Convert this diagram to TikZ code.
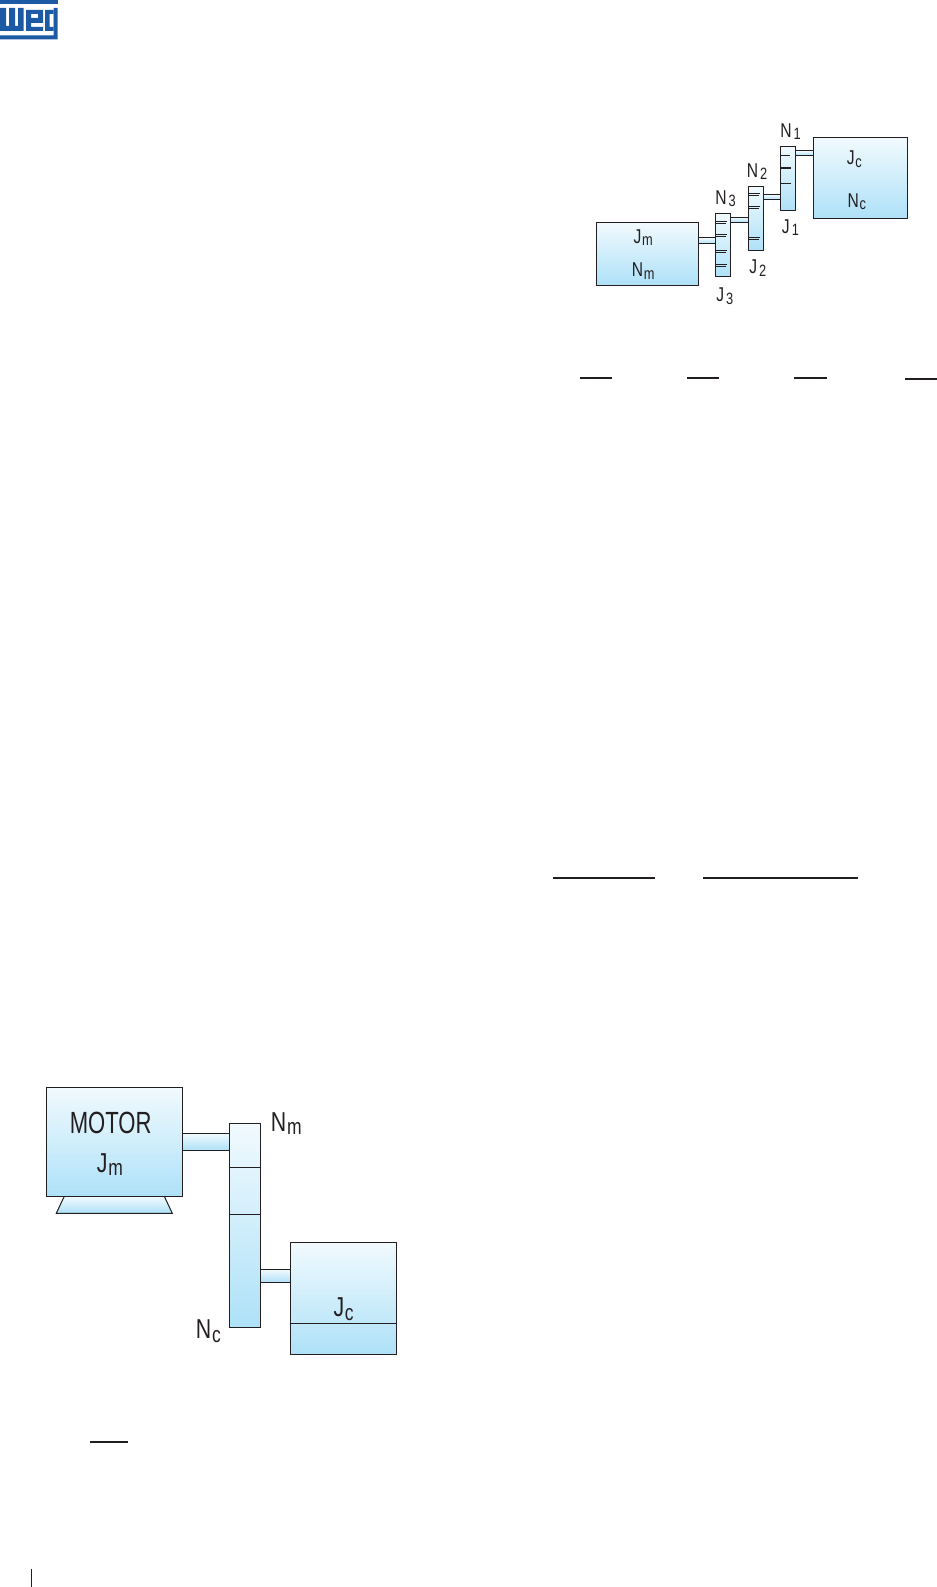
\documentclass[tikz,border=0pt]{standalone}
\usepackage{fontspec}
\newfontfamily\cond[FakeStretch=0.78]{Liberation Sans}
\newfontfamily\condmotor[FakeStretch=0.72]{Liberation Sans}
\definecolor{lighttop}{HTML}{F1FAFE}
\definecolor{lightbot}{HTML}{AEE1F8}
\definecolor{inkline}{HTML}{231F20}
\definecolor{wegblue}{HTML}{1C5AA6}
\newcommand{\lab}[4]{{\fontsize{#1}{#1}\selectfont\cond #3\hspace{#4}\raisebox{-0.14em}{\fontsize{\dimexpr #1pt*82/100\relax}{#1}\selectfont #2}}}
\tikzset{
  partbox/.style={draw=inkline,line width=0.75pt,top color=lighttop,bottom color=lightbot,middle color=lighttop!50!lightbot},
  rule/.style={draw=inkline,line width=1.5pt},
  thin rule/.style={draw=inkline,line width=0.4pt},
  tick rule/.style={draw=inkline,line width=0.9pt},
  txt/.style={anchor=base west,inner sep=0pt,text=inkline},
  logo/.style={fill=wegblue,draw=none}
}
\begin{document}
\begin{tikzpicture}[x=0.75pt,y=-0.75pt]
\useasboundingbox (0,0) rectangle (937,1587);
% logo
\fill[logo] (0,0) rectangle (57.5,4);
\fill[logo] (0,8) -- (6,8) -- (6,26) -- (9,26) -- (9,8) -- (15,8) -- (15,26) -- (18,26) -- (18,8) -- (23.5,8) -- (23.5,31) -- (0,31) -- cycle;
\fill[logo,even odd rule] (26,10) rectangle (43,31) (31,14) rectangle (38,18) (31,23) rectangle (43,27);
\fill[logo,even odd rule] (45,10) rectangle (53.5,31) (49.5,14) rectangle (53.5,27);
\fill[logo] (53.5,8) rectangle (57.5,39.5) (0,35.5) rectangle (57.5,39.5);
% top gear train
\path[partbox] (698.5,238) rectangle (715,243.7);
\path[partbox] (730.7,217.3) rectangle (748.3,222.3);
\path[partbox] (763.7,194.7) rectangle (780.3,199.7);
\path[partbox] (795.7,151) rectangle (813,155.3);
\path[partbox] (596,222.3) rectangle (698.5,285.3);
\path[partbox] (715,213.3) rectangle (730.7,276.7);
\path[partbox] (748.3,186.3) rectangle (763.7,250.3);
\path[partbox] (780.3,146.3) rectangle (795.7,210.3);
\path[partbox] (813,137.3) rectangle (907.3,218.3);
\foreach \y in {221.5,234.5,250.5,264.5} {\draw[thin rule] (716,\y) -- (727,\y); \draw[thin rule] (716,\y+2) -- (726,\y+2);}
\foreach \y in {193.5,206.5,237.5} {\draw[thin rule] (749,\y) -- (760,\y); \draw[thin rule] (749,\y+2) -- (759,\y+2);}
\foreach \y in {155.7,168,183.7} {\draw[tick rule] (781,\y) -- (\y/200+790.5-0.8,\y);}
\node[txt] (n1) at (780,137.2) {\lab{15}{1}{N}{1.5pt}};
\node[txt] (n2) at (746.7,177.2) {\lab{15}{2}{N}{1.5pt}};
\node[txt] (n3) at (715,204.2) {\lab{15}{3}{N}{1.5pt}};
\node[txt] (j1) at (781.7,233.2) {\lab{15}{1}{J}{1.5pt}};
\node[txt] (j2) at (749,273.8) {\lab{15}{2}{J}{1.5pt}};
\node[txt] (j3) at (716,301.5) {\lab{15}{3}{J}{1.5pt}};
\node[txt] (jm) at (633.3,243.2) {\lab{15}{m}{J}{0.5pt}};
\node[txt] (nm) at (631.7,276.2) {\lab{15}{m}{N}{0.5pt}};
\node[txt] (jc) at (846.7,164.5) {\lab{15}{c}{J}{0.5pt}};
\node[txt] (nc) at (847.3,207.2) {\lab{15}{c}{N}{0.5pt}};
% fraction bars and page rule
\draw[rule] (580,377.7) -- (612,377.7);
\draw[rule] (687,377.7) -- (719,377.7);
\draw[rule] (794,377.7) -- (826.7,377.7);
\draw[rule] (905,379) -- (937,379);
\draw[rule] (553,878) -- (655,878);
\draw[rule] (703,878) -- (858,878);
\draw[rule] (90,1442) -- (128,1442);
\draw[draw=inkline,line width=0.75pt] (31.5,1569) -- (31.5,1587);
% lower drive
\path[partbox] (64.3,1196.3) -- (164.3,1196.3) -- (172.3,1213.3) -- (56.3,1213.3) -- cycle;
\path[partbox] (182.3,1133.3) rectangle (229.3,1150);
\path[partbox] (260.3,1269.3) rectangle (290.7,1282.7);
\path[partbox] (46,1087.3) rectangle (182.3,1196.3);
\path[partbox] (229.3,1123.3) rectangle (260.3,1327);
\path[partbox] (290.7,1242) rectangle (396,1354.3);
\draw[inkline,line width=0.75pt] (229.3,1167.3) -- (260.3,1167.3);
\draw[inkline,line width=0.75pt] (229.3,1214.7) -- (260.3,1214.7);
\draw[inkline,line width=0.75pt] (290.7,1323.3) -- (396,1323.3);
\node[txt] (motor) at (69.5,1133.3) {\fontsize{23}{23}\selectfont\condmotor MOTOR};
\node[txt] (jmb) at (96.7,1172) {\lab{20.5}{m}{J}{0.5pt}};
\node[txt] (nmb) at (270.7,1131) {\lab{20.5}{m}{N}{0.5pt}};
\node[txt] (ncb) at (195.7,1338.6) {\lab{20.5}{c}{N}{0.5pt}};
\node[txt] (jcb) at (333.3,1316.3) {\lab{20.5}{c}{J}{0.5pt}};
\end{tikzpicture}
\end{document}
